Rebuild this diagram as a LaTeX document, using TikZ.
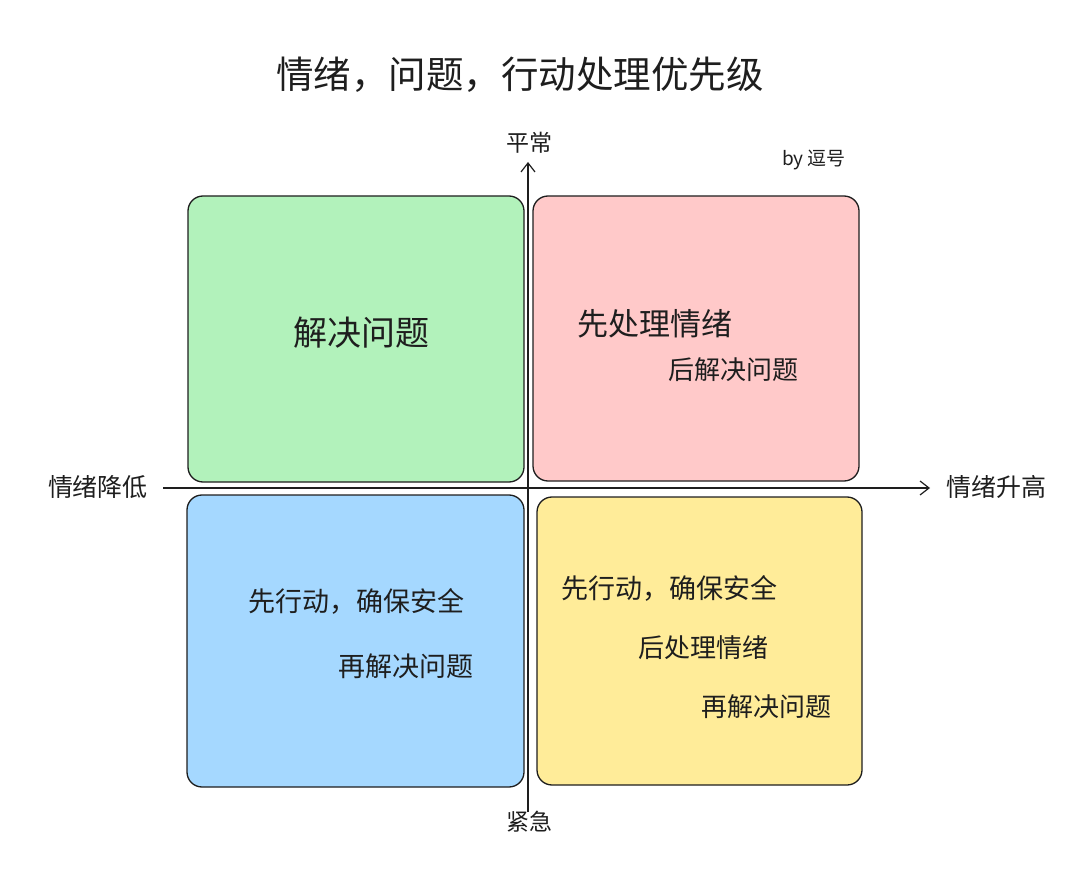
\documentclass[tikz,border=0pt]{standalone}
\usepackage{fontspec}
\newfontfamily\cjk{Noto Sans CJK SC}
\usepackage{xcolor}
\usepackage{tikz}
\usetikzlibrary{arrows.meta, positioning}

\definecolor{inkc}{HTML}{1E1E1E}
\definecolor{greenq}{HTML}{B2F2BB}
\definecolor{redq}{HTML}{FFC9C9}
\definecolor{blueq}{HTML}{A5D8FF}
\definecolor{yellowq}{HTML}{FFEC99}

\begin{document}
\begin{tikzpicture}[
    x=1pt, y=-1pt,
    quad/.style={draw=inkc, line width=1.3pt, rectangle, rounded corners=15pt, inner sep=0pt},
    axislabel/.style={font=\cjk\fontsize{25}{28}\selectfont, text=inkc, inner sep=0pt},
    note/.style={font=\cjk\fontsize{27}{30}\selectfont, text=inkc, inner sep=0pt},
    arrow/.style={-{Straight Barb[length=9pt, width=14pt]}, line width=1.2pt, draw=inkc}
]
\useasboundingbox (0,0) rectangle (1080,869);

% Title
\node[font=\cjk\fontsize{37.5}{40}\selectfont, text=inkc] (title) at (520,75) {情绪，问题，行动处理优先级};
\node[font=\cjk\fontsize{19}{22}\selectfont, text=inkc] (author) at (814,160) {by 逗号};

% Quadrants
\node[quad, fill=greenq, minimum width=336pt, minimum height=286pt] (calm) at (356,339) {};
\node[quad, fill=redq, minimum width=326pt, minimum height=285pt] (upset) at (696,338.5) {};
\node[quad, fill=blueq, minimum width=337pt, minimum height=292pt] (danger) at (355.5,641) {};
\node[quad, fill=yellowq, minimum width=325pt, minimum height=288pt] (panic) at (699.5,641) {};

% Texts in quadrants
\node[note, font=\cjk\fontsize{34}{36}\selectfont] (solve) at (361,333) {解决问题};
\node[note, font=\cjk\fontsize{31}{34}\selectfont] (moodfirst) at (655,324) {先处理情绪};
\node[note, font=\cjk\fontsize{26}{29}\selectfont] (solvelater) at (733,370) {后解决问题};
\node[note] (actA) at (356,601) {先行动，确保安全};
\node[note] (solveA) at (406,666) {再解决问题};
\node[note] (actB) at (669,588) {先行动，确保安全};
\node[note, font=\cjk\fontsize{26}{29}\selectfont] (moodB) at (703,648) {后处理情绪};
\node[note, font=\cjk\fontsize{26}{29}\selectfont] (solveB) at (766,707) {再解决问题};

% Axes labels
\node[axislabel] (low) at (98,487) {情绪降低};
\node[axislabel] (high) at (996,487) {情绪升高};
\node[axislabel, font=\cjk\fontsize{23}{26}\selectfont] (normal) at (529,143) {平常};
\node[axislabel, font=\cjk\fontsize{23}{26}\selectfont] (urgent) at (529,822) {紧急};

% Axis ends
\coordinate (xbeg) at (163,488);
\coordinate (xend) at (930,488);
\coordinate (ybeg) at (528,812);
\coordinate (yend) at (528,162);

% Connections
\draw[arrow] (xbeg) -- (xend);
\draw[arrow] (ybeg) -- (yend);

\end{tikzpicture}
\end{document}
